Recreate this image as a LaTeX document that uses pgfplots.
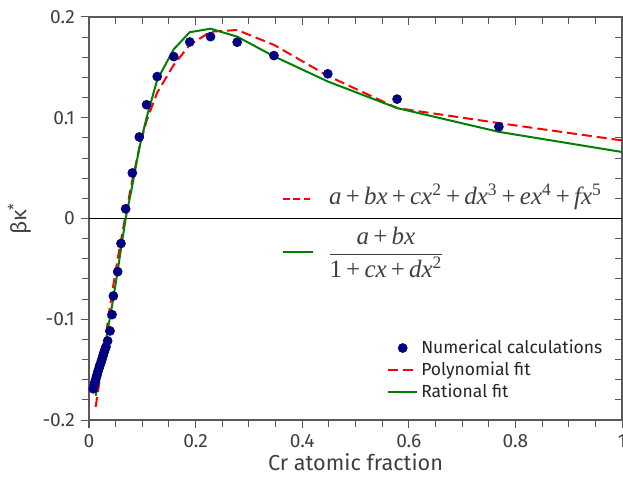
\documentclass[border=0pt]{standalone}
\usepackage{fontspec}
\setmainfont{Fira Sans}
\newfontfamily\tms{Liberation Serif}
\usepackage{pgfplots}
\usepackage{pgfplotstable}
\pgfplotsset{compat=1.18}
\definecolor{txt}{RGB}{64,64,64}
\definecolor{navyd}{RGB}{0,0,128}
\definecolor{gfit}{RGB}{0,128,0}
\definecolor{rfit}{RGB}{255,0,0}
\newcommand\pl{\,{\upshape+}\,}
\newcommand\sps[1]{{\upshape\textsuperscript{#1}}}

\pgfplotstableread{
x y
0.0080 -0.1690
0.0095 -0.1660
0.0110 -0.1625
0.0126 -0.1600
0.0140 -0.1570
0.0156 -0.1545
0.0170 -0.1515
0.0188 -0.1488
0.0200 -0.1460
0.0220 -0.1436
0.0235 -0.1410
0.0250 -0.1386
0.0265 -0.1360
0.0281 -0.1330
0.0300 -0.1300
0.0319 -0.1274
0.0350 -0.1215
0.0394 -0.1116
0.0432 -0.0954
0.0457 -0.0769
0.0538 -0.0528
0.0600 -0.0248
0.0688 0.0096
0.0813 0.0452
0.0944 0.0809
0.1080 0.1129
0.1280 0.1409
0.1590 0.1607
0.1890 0.1752
0.2280 0.1805
0.2780 0.1750
0.3470 0.1617
0.4480 0.1436
0.5780 0.1185
0.7690 0.0911
}\numtab

\pgfplotstableread{
x y
0.0125 -0.1870
0.0188 -0.1650
0.0250 -0.1410
0.0319 -0.1150
0.0394 -0.0870
0.0457 -0.0660
0.0538 -0.0400
0.0600 -0.0220
0.0688 0.0040
0.0813 0.0380
0.0944 0.0700
0.1080 0.0970
0.1280 0.1250
0.1590 0.1525
0.1890 0.1723
0.2280 0.1854
0.2780 0.1871
0.3470 0.1723
0.4480 0.1416
0.5780 0.1096
0.7690 0.0947
1.0000 0.0775
}\polytab

\pgfplotstableread{
x y
0.0125 -0.1760
0.0188 -0.1580
0.0250 -0.1400
0.0319 -0.1200
0.0394 -0.0980
0.0457 -0.0790
0.0538 -0.0520
0.0600 -0.0300
0.0688 0.0000
0.0813 0.0330
0.0944 0.0700
0.1080 0.1000
0.1280 0.1376
0.1590 0.1680
0.1890 0.1849
0.2280 0.1884
0.2780 0.1805
0.3470 0.1610
0.4480 0.1360
0.5780 0.1096
0.7690 0.0860
1.0000 0.0660
}\rattab

\begin{document}
\begin{tikzpicture}
\pgfplotsset{common/.style={
  width=319.8pt, height=241.8pt, scale only axis,
  xmin=0, xmax=1, ymin=-0.2, ymax=0.2,
  xtick={0,0.2,0.4,0.6,0.8,1},
  ytick={-0.2,-0.1,0,0.1,0.2},
  minor x tick num=3, minor y tick num=4,
  axis line style={black!65, line width=0.7pt},
  major tick length=5pt, minor tick length=4pt,
  every tick/.style={black!65, line width=0.6pt},
}}
\begin{axis}[common,
  xtick pos=right, ytick pos=right, tick align=inside,
  xticklabels={}, yticklabels={}]
\addplot[draw=none] coordinates {(0.5,0)};
\end{axis}
\begin{axis}[common,
  xtick pos=left, ytick pos=left, tick align=outside,
  xticklabels={0,0.2,0.4,0.6,0.8,1},
  yticklabels={-0.2,-0.1,0,0.1,0.2},
  tick label style={font=\fontsize{11.5}{13}\selectfont, text=txt},
  xlabel={Cr atomic fraction},
  ylabel={βκ\textsuperscript{*}},
  label style={font=\fontsize{13}{15}\selectfont, text=txt},
  xlabel style={yshift=3pt},
  legend style={at={(rel axis cs:0.550,0.216)}, anchor=north west,
    draw=none, fill=none, font=\fontsize{10.5}{12}\selectfont,
    text=black!85, row sep=-0.6pt},
  legend cell align=left,
]
\draw[black, line width=0.6pt] (axis cs:0,0) -- (axis cs:1,0);
\addplot[only marks, mark=*, mark size=2.7pt, color=navyd] table {\numtab};
\addlegendentry{Numerical calculations}
\addplot[rfit, line width=1.2pt, dash pattern=on 6pt off 3pt] table {\polytab};
\addlegendentry{Polynomial fit}
\addplot[gfit, line width=1.2pt] table {\rattab};
\addlegendentry{Rational fit}
\draw[rfit, line width=1.2pt, dash pattern=on 4pt off 2.2pt] (axis cs:0.364,0.0198) -- (axis cs:0.420,0.0198);
\draw[gfit, line width=1.2pt] (axis cs:0.364,-0.0337) -- (axis cs:0.420,-0.0337);
\node[anchor=base west, inner sep=0pt, text=txt, font=\fontsize{15}{18}\selectfont\tms\itshape]
  at (axis cs:0.450,0.0139) {a\pl bx\pl cx\sps{2}\pl dx\sps{3}\pl ex\sps{4}\pl fx\sps{5}};
\node[anchor=west, inner sep=0pt, text=txt, font=\fontsize{15}{18}\selectfont]
  at (axis cs:0.447,-0.0337) {$\displaystyle\frac{\hbox{\tms\itshape a\pl bx}}{\hbox{\tms\itshape {\upshape 1}\pl cx\pl dx\sps{2}}}$};
\end{axis}
\pgfresetboundingbox
\path[use as bounding box] (-53.4pt,-34.2pt) rectangle (320.4pt,252pt);
\end{tikzpicture}
\end{document}
